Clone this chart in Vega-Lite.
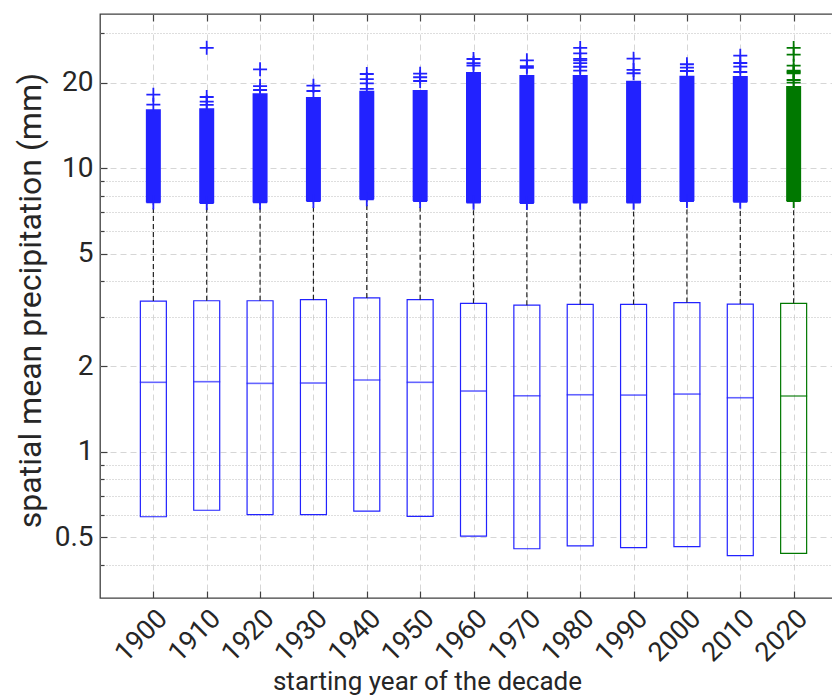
{
  "$schema": "https://vega.github.io/schema/vega-lite/v6.json",
  "width": 747,
  "height": 584,
  "autosize": {"type": "none"},
  "padding": {"left": 100, "top": 14, "right": 0, "bottom": 98},
  "background": "white",
  "config": {
    "font": "Roboto",
    "view": {"stroke": "#404040", "strokeWidth": 1.3},
    "axis": {"labelColor": "#262626", "titleColor": "#262626", "labelFont": "Roboto", "titleFont": "Roboto", "titleFontWeight": "normal", "tickColor": "#404040", "tickWidth": 1.2, "domain": false, "labelOverlap": false, "labelFlush": false}
  },
  "datasets": {
    "boxes": [
      {"decade": 1900, "q1": 0.590, "median": 1.758, "q3": 3.40, "whisker": 7.58, "dense_hi": 16.14, "group": "1900-2010"},
      {"decade": 1910, "q1": 0.622, "median": 1.767, "q3": 3.41, "whisker": 7.54, "dense_hi": 16.27, "group": "1900-2010"},
      {"decade": 1920, "q1": 0.600, "median": 1.743, "q3": 3.41, "whisker": 7.58, "dense_hi": 18.38, "group": "1900-2010"},
      {"decade": 1930, "q1": 0.600, "median": 1.748, "q3": 3.44, "whisker": 7.66, "dense_hi": 17.84, "group": "1900-2010"},
      {"decade": 1940, "q1": 0.618, "median": 1.791, "q3": 3.49, "whisker": 7.77, "dense_hi": 18.78, "group": "1900-2010"},
      {"decade": 1950, "q1": 0.592, "median": 1.758, "q3": 3.44, "whisker": 7.66, "dense_hi": 18.88, "group": "1900-2010"},
      {"decade": 1960, "q1": 0.504, "median": 1.638, "q3": 3.34, "whisker": 7.56, "dense_hi": 21.85, "group": "1900-2010"},
      {"decade": 1970, "q1": 0.455, "median": 1.576, "q3": 3.29, "whisker": 7.54, "dense_hi": 21.32, "group": "1900-2010"},
      {"decade": 1980, "q1": 0.466, "median": 1.589, "q3": 3.31, "whisker": 7.56, "dense_hi": 21.32, "group": "1900-2010"},
      {"decade": 1990, "q1": 0.459, "median": 1.585, "q3": 3.31, "whisker": 7.56, "dense_hi": 20.36, "group": "1900-2010"},
      {"decade": 2000, "q1": 0.463, "median": 1.598, "q3": 3.36, "whisker": 7.66, "dense_hi": 21.21, "group": "1900-2010"},
      {"decade": 2010, "q1": 0.430, "median": 1.551, "q3": 3.32, "whisker": 7.62, "dense_hi": 21.16, "group": "1900-2010"},
      {"decade": 2020, "q1": 0.438, "median": 1.573, "q3": 3.34, "whisker": 7.66, "dense_hi": 19.50, "group": "2020"}
    ],
    "outliers": [
      {"decade": 1900, "value": 7.58, "group": "1900-2010"},
      {"decade": 1900, "value": 16.76, "group": "1900-2010"},
      {"decade": 1900, "value": 18.17, "group": "1900-2010"},
      {"decade": 1910, "value": 7.54, "group": "1900-2010"},
      {"decade": 1910, "value": 16.72, "group": "1900-2010"},
      {"decade": 1910, "value": 17.17, "group": "1900-2010"},
      {"decade": 1910, "value": 17.84, "group": "1900-2010"},
      {"decade": 1910, "value": 26.6, "group": "1900-2010"},
      {"decade": 1920, "value": 7.58, "group": "1900-2010"},
      {"decade": 1920, "value": 18.88, "group": "1900-2010"},
      {"decade": 1920, "value": 19.50, "group": "1900-2010"},
      {"decade": 1920, "value": 22.34, "group": "1900-2010"},
      {"decade": 1930, "value": 7.66, "group": "1900-2010"},
      {"decade": 1930, "value": 18.73, "group": "1900-2010"},
      {"decade": 1930, "value": 19.55, "group": "1900-2010"},
      {"decade": 1940, "value": 7.77, "group": "1900-2010"},
      {"decade": 1940, "value": 19.04, "group": "1900-2010"},
      {"decade": 1940, "value": 19.94, "group": "1900-2010"},
      {"decade": 1940, "value": 20.64, "group": "1900-2010"},
      {"decade": 1940, "value": 21.5, "group": "1900-2010"},
      {"decade": 1950, "value": 7.66, "group": "1900-2010"},
      {"decade": 1950, "value": 20.31, "group": "1900-2010"},
      {"decade": 1950, "value": 20.94, "group": "1900-2010"},
      {"decade": 1950, "value": 21.56, "group": "1900-2010"},
      {"decade": 1960, "value": 7.56, "group": "1900-2010"},
      {"decade": 1960, "value": 23.0, "group": "1900-2010"},
      {"decade": 1960, "value": 23.46, "group": "1900-2010"},
      {"decade": 1960, "value": 24.29, "group": "1900-2010"},
      {"decade": 1970, "value": 7.54, "group": "1900-2010"},
      {"decade": 1970, "value": 22.6, "group": "1900-2010"},
      {"decade": 1970, "value": 22.9, "group": "1900-2010"},
      {"decade": 1970, "value": 24.03, "group": "1900-2010"},
      {"decade": 1980, "value": 7.56, "group": "1900-2010"},
      {"decade": 1980, "value": 22.1, "group": "1900-2010"},
      {"decade": 1980, "value": 22.8, "group": "1900-2010"},
      {"decade": 1980, "value": 23.5, "group": "1900-2010"},
      {"decade": 1980, "value": 24.0, "group": "1900-2010"},
      {"decade": 1980, "value": 24.3, "group": "1900-2010"},
      {"decade": 1980, "value": 25.44, "group": "1900-2010"},
      {"decade": 1980, "value": 26.57, "group": "1900-2010"},
      {"decade": 1990, "value": 7.56, "group": "1900-2010"},
      {"decade": 1990, "value": 21.63, "group": "1900-2010"},
      {"decade": 1990, "value": 22.22, "group": "1900-2010"},
      {"decade": 1990, "value": 24.35, "group": "1900-2010"},
      {"decade": 2000, "value": 7.66, "group": "1900-2010"},
      {"decade": 2000, "value": 22.03, "group": "1900-2010"},
      {"decade": 2000, "value": 22.63, "group": "1900-2010"},
      {"decade": 2000, "value": 23.27, "group": "1900-2010"},
      {"decade": 2010, "value": 7.62, "group": "1900-2010"},
      {"decade": 2010, "value": 21.85, "group": "1900-2010"},
      {"decade": 2010, "value": 22.81, "group": "1900-2010"},
      {"decade": 2010, "value": 23.51, "group": "1900-2010"},
      {"decade": 2010, "value": 24.95, "group": "1900-2010"},
      {"decade": 2020, "value": 7.66, "group": "2020"},
      {"decade": 2020, "value": 20.04, "group": "2020"},
      {"decade": 2020, "value": 20.48, "group": "2020"},
      {"decade": 2020, "value": 21.6, "group": "2020"},
      {"decade": 2020, "value": 21.85, "group": "2020"},
      {"decade": 2020, "value": 22.1, "group": "2020"},
      {"decade": 2020, "value": 23.0, "group": "2020"},
      {"decade": 2020, "value": 25.15, "group": "2020"},
      {"decade": 2020, "value": 26.57, "group": "2020"}
    ]
  },
  "layer": [
    {
      "data": {"name": "boxes"},
      "mark": {"type": "bar", "filled": false, "width": 26, "strokeWidth": 1.2, "orient": "vertical"},
      "encoding": {
        "x": {
          "field": "decade", "type": "quantitative",
          "scale": {"domain": [1890, 2030], "nice": false, "zero": false, "padding": 0},
          "axis": {
            "orient": "bottom",
            "values": [1900, 1910, 1920, 1930, 1940, 1950, 1960, 1970, 1980, 1990, 2000, 2010, 2020],
            "format": "d", "labelAngle": -45, "labelFontSize": 27, "labelPadding": 14,
            "tickSize": -7,
            "grid": true, "gridDash": [6, 4], "gridColor": "#d6d6d6", "gridWidth": 1,
            "title": "starting year of the decade", "titleFontSize": 26,
            "titleX": 327, "titleY": 91, "titleAlign": "center", "titleBaseline": "alphabetic", "titleAnchor": null
          }
        },
        "y": {
          "field": "q1", "type": "quantitative",
          "scale": {"type": "log", "domain": [0.305, 35], "nice": false},
          "axis": {
            "values": [0.4, 0.5, 0.6, 0.7, 0.8, 0.9, 1, 2, 3, 4, 5, 6, 7, 8, 9, 10, 20, 30],
            "format": "~g",
            "labelExpr": "indexof([0.5, 1, 2, 5, 10, 20], datum.value) >= 0 ? datum.label : ''",
            "labelFontSize": 28, "labelPadding": 14,
            "tickSize": {"condition": {"test": "indexof([0.5, 1, 2, 5, 10, 20], datum.value) >= 0", "value": -7}, "value": -4},
            "grid": true,
            "gridDash": {"condition": {"test": "indexof([0.5, 1, 2, 5, 10, 20], datum.value) >= 0", "value": [6, 4]}, "value": [1, 2]},
            "gridColor": {"condition": {"test": "indexof([0.5, 1, 2, 5, 10, 20], datum.value) >= 0", "value": "#d6d6d6"}, "value": "#bdbdbd"},
            "title": "spatial mean precipitation (mm)", "titleFontSize": 32,
            "titleX": -70, "titleY": 286, "titleAngle": -90, "titleAlign": "center", "titleBaseline": "middle", "titleAnchor": null
          }
        },
        "y2": {"field": "q3"},
        "color": {"field": "group", "type": "nominal", "scale": {"domain": ["1900-2010", "2020"], "range": ["#2222ff", "#007800"]}, "legend": null}
      }
    },
    {
      "data": {"name": "boxes"},
      "mark": {"type": "rule", "strokeDash": [5, 3], "strokeWidth": 1.2, "color": "#222222"},
      "encoding": {
        "x": {
          "field": "decade", "type": "quantitative",
          "axis": {
            "orient": "top", "values": [1900, 1910, 1920, 1930, 1940, 1950, 1960, 1970, 1980, 1990, 2000, 2010, 2020],
            "labels": false, "title": null, "grid": false, "tickSize": -7
          }
        },
        "y": {"field": "q3", "type": "quantitative"},
        "y2": {"field": "whisker"}
      }
    },
    {
      "data": {"name": "boxes"},
      "mark": {"type": "tick", "orient": "horizontal", "size": 27, "thickness": 1.6},
      "encoding": {
        "x": {"field": "decade", "type": "quantitative", "axis": null},
        "y": {"field": "median", "type": "quantitative"},
        "color": {"field": "group", "type": "nominal", "legend": null}
      }
    },
    {
      "data": {"name": "boxes"},
      "mark": {"type": "bar", "width": 15, "orient": "vertical"},
      "encoding": {
        "x": {"field": "decade", "type": "quantitative", "axis": null},
        "y": {"field": "whisker", "type": "quantitative"},
        "y2": {"field": "dense_hi"},
        "color": {"field": "group", "type": "nominal", "legend": null}
      }
    },
    {
      "data": {"name": "outliers"},
      "mark": {"type": "point", "shape": "M-1,0H1M0,-1V1", "filled": false, "size": 196, "strokeWidth": 1.8, "opacity": 1},
      "encoding": {
        "x": {"field": "decade", "type": "quantitative", "axis": null},
        "y": {"field": "value", "type": "quantitative"},
        "color": {"field": "group", "type": "nominal", "legend": null}
      }
    }
  ],
  "resolve": {"axis": {"x": "independent"}}
}
